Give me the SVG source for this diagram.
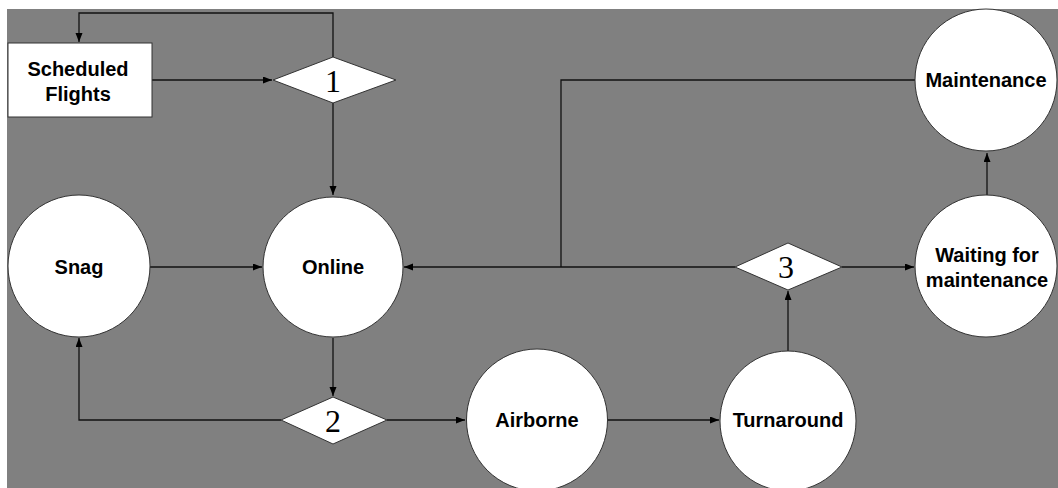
<svg xmlns="http://www.w3.org/2000/svg" width="1058" height="488" viewBox="0 0 1058 488">
<style>
.bg{fill:#808080}
.node{fill:#fff;stroke:#333;stroke-width:1}
.lbl{font-family:"Liberation Sans",Arial,sans-serif;font-weight:bold;font-size:20px;fill:#000;text-anchor:middle}
.num{font-family:"Liberation Serif","Times New Roman",serif;font-size:32px;fill:#000;text-anchor:middle}
.edge{fill:none;stroke:#111;stroke-width:1.3}
</style>
<defs>
<marker id="arr" markerUnits="userSpaceOnUse" markerWidth="10" markerHeight="8" refX="9" refY="3.5" orient="auto">
<path d="M0,0 L9,3.5 L0,7 z" fill="#000"/>
</marker>
</defs>
<rect x="0" y="0" width="1058" height="488" fill="#fff"/>
<rect class="bg" x="7" y="9" width="1051" height="479"/>
<g id="connectors">
<path class="edge" d="M333,57 V13 H79 V42" marker-end="url(#arr)"/>
<path class="edge" d="M152,80 H272" marker-end="url(#arr)"/>
<path class="edge" d="M333,103 V195" marker-end="url(#arr)"/>
<path class="edge" d="M150,267 H262" marker-end="url(#arr)"/>
<path class="edge" d="M333,338 V396" marker-end="url(#arr)"/>
<path class="edge" d="M281,420 H79 V338" marker-end="url(#arr)"/>
<path class="edge" d="M387,420 H465" marker-end="url(#arr)"/>
<path class="edge" d="M607,420 H719" marker-end="url(#arr)"/>
<path class="edge" d="M788,351 V291" marker-end="url(#arr)"/>
<path class="edge" d="M842,267 H914" marker-end="url(#arr)"/>
<path class="edge" d="M735,267 H404" marker-end="url(#arr)"/>
<path class="edge" d="M915,80 H561 V267"/>
<path class="edge" d="M987,195 V153" marker-end="url(#arr)"/>
</g>
<g id="scheduled-flights">
<rect class="node" x="8" y="43" width="144" height="74"/>
<text class="lbl" x="78" y="76">Scheduled</text>
<text class="lbl" x="78" y="101">Flights</text>
</g>
<g id="decision-1">
<polygon class="node" points="273,80 333,57 396,80 333,103"/>
<text class="num" x="333" y="92">1</text>
</g>
<g id="snag">
<circle class="node" cx="79" cy="266" r="71"/>
<text class="lbl" x="79" y="274">Snag</text>
</g>
<g id="online">
<circle class="node" cx="333" cy="267" r="70"/>
<text class="lbl" x="333" y="274">Online</text>
</g>
<g id="decision-2">
<polygon class="node" points="281,420 333,397 387,420 333,444"/>
<text class="num" x="333" y="432">2</text>
</g>
<g id="airborne">
<ellipse class="node" cx="537" cy="420" rx="70.5" ry="71"/>
<text class="lbl" x="537" y="427">Airborne</text>
</g>
<g id="turnaround">
<ellipse class="node" cx="788" cy="421" rx="68" ry="70"/>
<text class="lbl" x="788" y="427">Turnaround</text>
</g>
<g id="decision-3">
<polygon class="node" points="735,267 788,243 842,267 788,290"/>
<text class="num" x="786" y="278">3</text>
</g>
<g id="waiting-for-maintenance">
<ellipse class="node" cx="986" cy="266" rx="71" ry="71"/>
<text class="lbl" x="987" y="262">Waiting for</text>
<text class="lbl" x="987" y="287">maintenance</text>
</g>
<g id="maintenance">
<ellipse class="node" cx="986" cy="80" rx="71" ry="71"/>
<text class="lbl" x="986" y="87">Maintenance</text>
</g>
</svg>
